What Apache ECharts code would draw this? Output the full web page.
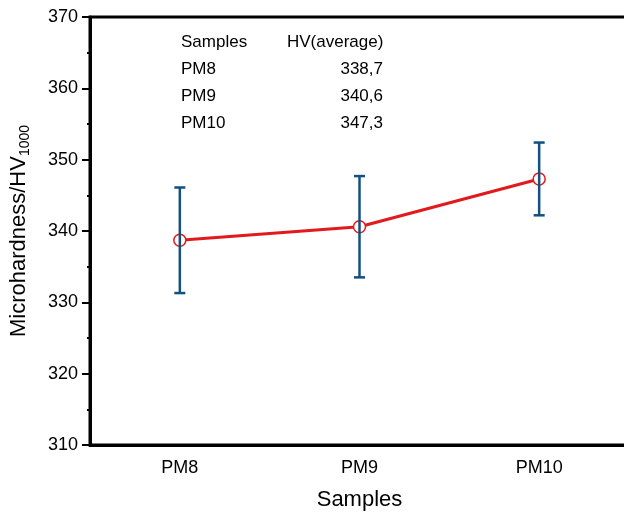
<!DOCTYPE html>
<html lang="en">
  <head>
    <meta charset="UTF-8" />
    <title>Microhardness</title>
    <script src="https://cdn.jsdelivr.net/npm/echarts@6/dist/echarts.min.js"></script>
    <style>
      html, body { margin: 0; padding: 0; background: #fff; }
    </style>
  </head>
  <body>
    <div id="main" style="width: 624px; height: 514px"></div>
    <script type="text/javascript">
      // data
      const samples = ["PM8", "PM9", "PM10"];
      const hvAverage = [338.7, 340.6, 347.3];
      const errLow = [331.3, 333.5, 342.2];
      const errHigh = [346.1, 347.7, 352.4];
      const tableHeader = ["Samples", "HV(average)"];
      const tableValues = ["338,7", "340,6", "347,3"];

      const font = "Liberation Sans, Arial, Helvetica, sans-serif";

      // table text in the upper left of the plot
      let tableGraphics = [];
      const rowY = [44, 71, 98, 125];
      const tStyle = { font: "17px " + font, fill: "#000" };
      tableGraphics.push({
        type: "text", left: 181, top: rowY[0] - 10,
        style: Object.assign({ text: tableHeader[0] }, tStyle),
      });
      tableGraphics.push({
        type: "text", left: 287, top: rowY[0] - 10,
        style: Object.assign({ text: tableHeader[1] }, tStyle),
      });
      for (let i = 0; i < samples.length; i++) {
        tableGraphics.push({
          type: "text", left: 181, top: rowY[i + 1] - 10,
          style: Object.assign({ text: samples[i] }, tStyle),
        });
        tableGraphics.push({
          type: "text", right: 624 - 383, top: rowY[i + 1] - 10,
          style: Object.assign({ text: tableValues[i], textAlign: "right" }, tStyle),
        });
      }

      let errData = samples.map((s, i) => [i, errLow[i], errHigh[i]]);

      let options = {
        animation: false,
        textStyle: { fontFamily: font },
        grid: {
          left: 90, top: 17, width: 539, height: 428,
          outerBoundsMode: "none",
          show: true, borderColor: "#000", borderWidth: 3,
        },
        graphic: tableGraphics,
        xAxis: {
          type: "category",
          data: samples,
          name: "Samples",
          nameLocation: "middle",
          nameGap: 44,
          nameTextStyle: { fontSize: 22, color: "#000" },
          axisLine: { lineStyle: { color: "#000", width: 3 } },
          axisTick: { alignWithLabel: true, length: 7, lineStyle: { color: "#000", width: 2 } },
          axisLabel: { fontSize: 18, color: "#000", margin: 14 },
        },
        yAxis: {
          type: "value",
          min: 310,
          max: 370,
          interval: 10,
          name: "Microhardness/HV{sub|1000}",
          nameLocation: "middle",
          nameGap: 58,
          nameTextStyle: {
            fontSize: 22, color: "#000",
            rich: { sub: { fontSize: 14, color: "#000", padding: [12, 0, 0, 0] } },
          },
          splitLine: { show: false },
          axisLine: { show: true, lineStyle: { color: "#000", width: 3 } },
          axisTick: { show: true, length: 8, lineStyle: { color: "#000", width: 2 } },
          minorTick: { show: true, splitNumber: 2, length: 3, lineStyle: { color: "#000", width: 2 } },
          axisLabel: { fontSize: 18, color: "#000", margin: 12 },
        },
        series: [
          {
            type: "line",
            data: hvAverage,
            z: 2,
            symbol: "circle",
            symbolSize: 12,
            lineStyle: { color: "#e31a1c", width: 3 },
            itemStyle: { color: "#fff", borderColor: "#e31a1c", borderWidth: 1.5 },
          },
          {
            type: "custom",
            data: errData,
            z: 3,
            renderItem: function (params, api) {
              let x = api.value(0);
              let top = api.coord([x, api.value(2)]);
              let bot = api.coord([x, api.value(1)]);
              let hw = 5.5;
              let st = { stroke: "#12507f", lineWidth: 2.5 };
              return {
                type: "group",
                children: [
                  { type: "line", shape: { x1: top[0], y1: top[1], x2: bot[0], y2: bot[1] }, style: st },
                  { type: "line", shape: { x1: top[0] - hw, y1: top[1], x2: top[0] + hw, y2: top[1] }, style: st },
                  { type: "line", shape: { x1: bot[0] - hw, y1: bot[1], x2: bot[0] + hw, y2: bot[1] }, style: st },
                ],
              };
            },
          },
        ],
      };

      let myChart = echarts.init(document.getElementById("main"));
      myChart.setOption(options);
    </script>
  </body>
</html>
